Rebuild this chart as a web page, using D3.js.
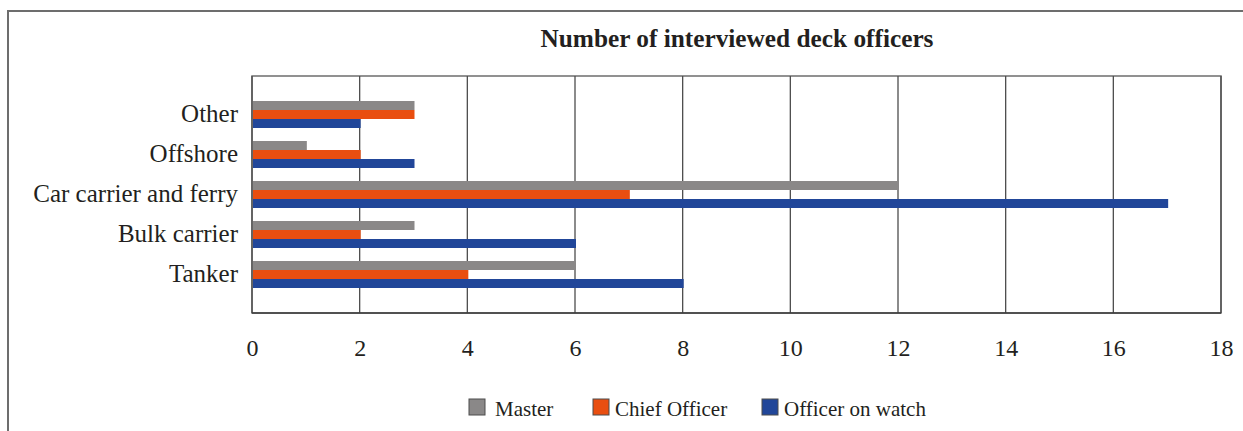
<!DOCTYPE html>
<html>
<head>
<meta charset="utf-8">
<script src="https://cdn.jsdelivr.net/npm/d3@7"></script>
<style>
  body { margin: 0; background: #fff; }
  svg text { font-family: "Liberation Serif", "Times New Roman", serif; fill: #231f20; }
</style>
</head>
<body>
<div id="chart"></div>
<script>
// data
const categories = ['Other', 'Offshore', 'Car carrier and ferry', 'Bulk carrier', 'Tanker'];
const seriesNames = ['Master', 'Chief Officer', 'Officer on watch'];
const master = [3, 1, 12, 3, 6];
const chiefOfficer = [3, 2, 7, 2, 4];
const officerOnWatch = [2, 3, 17, 6, 8];
const xTicks = [0, 2, 4, 6, 8, 10, 12, 14, 16, 18];
const colors = ['#8a8888', '#e94e10', '#214699'];

const width = 1243;
const height = 431;
const margin = { top: 76, right: 22, bottom: 118, left: 252 };

const svg = d3
  .select('#chart')
  .append('svg')
  .attr('width', width)
  .attr('height', height);

// outer frame
svg.append('path')
  .attr('d', `M8,${height + 5} V11 H${width + 5}`)
  .attr('fill', 'none')
  .attr('stroke', '#6d6d6d')
  .attr('stroke-width', 2);

const x = d3.scaleLinear().domain([0, 18]).range([margin.left, width - margin.right]);
const y = d3.scaleBand()
  .domain(categories)
  .range([margin.top, height - margin.bottom])
  .paddingInner(0.325)
  .paddingOuter(0.625);
const ySub = d3.scaleBand().domain(seriesNames).range([0, y.bandwidth()]);

const rows = categories.map((c, i) => ({
  category: c,
  values: [master[i], chiefOfficer[i], officerOnWatch[i]]
}));

// plot frame
svg.append('rect')
  .attr('x', x(0))
  .attr('y', margin.top)
  .attr('width', x(18) - x(0))
  .attr('height', height - margin.bottom - margin.top)
  .attr('fill', 'none')
  .attr('stroke', '#6d6d6d')
  .attr('stroke-width', 1.5);

// gridlines
svg.append('g')
  .selectAll('line')
  .data(xTicks)
  .join('line')
  .attr('x1', d => x(d))
  .attr('x2', d => x(d))
  .attr('y1', margin.top)
  .attr('y2', height - margin.bottom)
  .attr('stroke', '#4d4d4d')
  .attr('stroke-width', 1.3);

// bars
svg.append('g')
  .selectAll('g')
  .data(rows)
  .join('g')
  .attr('transform', d => `translate(0,${y(d.category)})`)
  .selectAll('rect')
  .data(d => d.values.map((v, j) => ({ name: seriesNames[j], value: v, j })))
  .join('rect')
  .attr('x', x(0) + 1)
  .attr('y', d => ySub(d.name))
  .attr('width', d => x(d.value) - x(0))
  .attr('height', ySub.bandwidth())
  .attr('fill', d => colors[d.j]);

// bottom axis line
svg.append('line')
  .attr('x1', x(0))
  .attr('x2', x(18))
  .attr('y1', height - margin.bottom)
  .attr('y2', height - margin.bottom)
  .attr('stroke', '#3d3d3d')
  .attr('stroke-width', 1.5);

// x axis
const xAxis = svg.append('g')
  .attr('transform', `translate(0,${height - margin.bottom})`)
  .call(d3.axisBottom(x).tickValues(xTicks).tickSize(0).tickPadding(26));
xAxis.select('.domain').remove();
xAxis.selectAll('text')
  .attr('font-size', 24)
  .style('font-family', '"Liberation Serif", serif')
  .attr('fill', '#231f20');

// y axis labels
const yAxis = svg.append('g')
  .attr('transform', `translate(${x(0)},0)`)
  .call(d3.axisLeft(y).tickSize(0).tickPadding(14));
yAxis.select('.domain').remove();
yAxis.selectAll('text')
  .attr('font-size', 25)
  .attr('dy', '0.3em')
  .style('font-family', '"Liberation Serif", serif')
  .attr('fill', '#231f20');

// title
svg.append('text')
  .attr('x', 737)
  .attr('y', 47)
  .attr('text-anchor', 'middle')
  .attr('font-size', 25.3)
  .attr('font-weight', 'bold')
  .text('Number of interviewed deck officers');

// legend
const legendX = [469, 593, 762];
const legend = svg.append('g')
  .selectAll('g')
  .data(seriesNames)
  .join('g')
  .attr('transform', (d, i) => `translate(${legendX[i]},399)`);
legend.append('rect')
  .attr('width', 16)
  .attr('height', 16)
  .attr('fill', (d, i) => colors[i])
  .attr('stroke', '#4d4d4d')
  .attr('stroke-width', 1);
legend.append('text')
  .attr('x', (d, i) => (i === 0 ? 26 : 22))
  .attr('y', 17)
  .attr('font-size', 21)
  .text(d => d);
</script>
</body>
</html>
